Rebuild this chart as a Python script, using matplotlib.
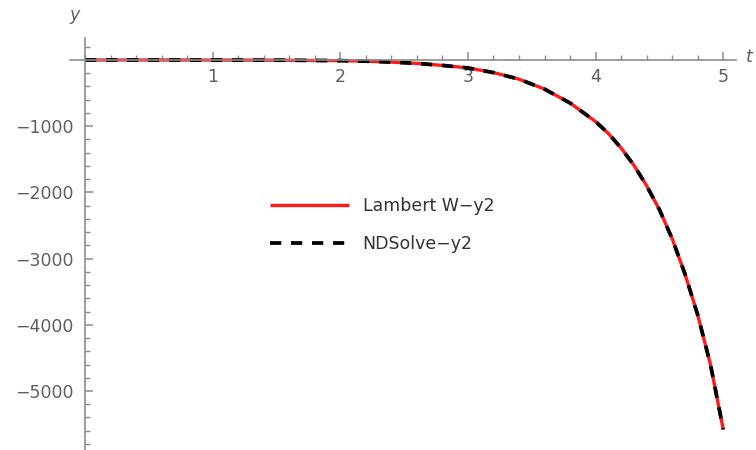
import numpy as np
import matplotlib
matplotlib.use("Agg")
from matplotlib import pyplot as plt
from matplotlib.ticker import MultipleLocator

# values
t_vals = [0.0, 0.5, 1.0, 1.5, 2.0, 2.2, 2.4, 2.6, 2.8, 3.0, 3.2, 3.4, 3.6, 3.8,
          4.0, 4.1, 4.2, 4.3, 4.4, 4.5, 4.6, 4.7, 4.8, 4.9, 5.0]
y_lambert = [0, 0, -1, -3, -10, -18, -32, -52, -82, -120, -190, -290, -440, -650,
             -930, -1110, -1330, -1590, -1900, -2260, -2700, -3230, -3850, -4600, -5580]
y_ndsolve = list(y_lambert)

x_ticks = [1, 2, 3, 4, 5]
y_ticks = [-1000, -2000, -3000, -4000, -5000]

label_col = "#5f5f5f"
axis_col = "#8c8c8c"
font_fam = ["DejaVu Sans"]
fs = 12.5

fig = plt.figure(figsize=(7.56, 4.5), dpi=100)
ax = fig.add_axes([70 / 756, 0.0, 666 / 756, 412 / 450])

ax.plot(t_vals, y_lambert, color="#ff1a1a", lw=2.4, label="Lambert W\u2212y2",
        solid_capstyle="butt")
ax.plot(t_vals, y_ndsolve, color="black", lw=2.7, linestyle=(0, (3.0, 2.6)),
        label="NDSolve\u2212y2")

ax.set_xlim(-0.118, 5.10)
ax.set_ylim(-5891, 332)

for side in ["top", "right"]:
    ax.spines[side].set_visible(False)
ax.spines["left"].set_position(("data", 0))
ax.spines["bottom"].set_position(("data", 0))
for side in ["left", "bottom"]:
    ax.spines[side].set_color(axis_col)
    ax.spines[side].set_linewidth(1.2)

ax.set_xticks(x_ticks)
ax.set_yticks(y_ticks)
ax.set_xticklabels([str(v) for v in x_ticks])
ax.set_yticklabels(["\u2212" + str(-v) for v in y_ticks])
ax.xaxis.set_minor_locator(MultipleLocator(0.2))
ax.yaxis.set_minor_locator(MultipleLocator(200))

ax.tick_params(axis="x", which="major", direction="in", length=6, width=1.1,
               color=axis_col, labelcolor=label_col, labelsize=fs, pad=6)
ax.tick_params(axis="x", which="minor", direction="in", length=3.5, width=1.0,
               color=axis_col)
ax.tick_params(axis="y", which="major", direction="in", length=6, width=1.1,
               color=axis_col, labelcolor=label_col, labelsize=fs, pad=8)
ax.tick_params(axis="y", which="minor", direction="in", length=3.5, width=1.0,
               color=axis_col)
for lbl in ax.get_xticklabels() + ax.get_yticklabels():
    lbl.set_family(font_fam)

fig.text(75 / 756, 1 - 15 / 450, "y", fontsize=fs, style="italic",
         color=label_col, ha="center", va="center", family=font_fam)
fig.text(749 / 756, 1 - 57 / 450, "t", fontsize=fs, style="italic",
         color=label_col, ha="center", va="center", family=font_fam)

leg = ax.legend(loc="center left", bbox_to_anchor=(254 / 756, 1 - 225 / 450),
                bbox_transform=fig.transFigure, frameon=False, handlelength=4.6,
                handletextpad=0.75, labelspacing=1.2,
                prop={"family": font_fam, "size": fs})
for txt in leg.get_texts():
    txt.set_color("#333333")

fig.savefig("out.png", dpi=100)
